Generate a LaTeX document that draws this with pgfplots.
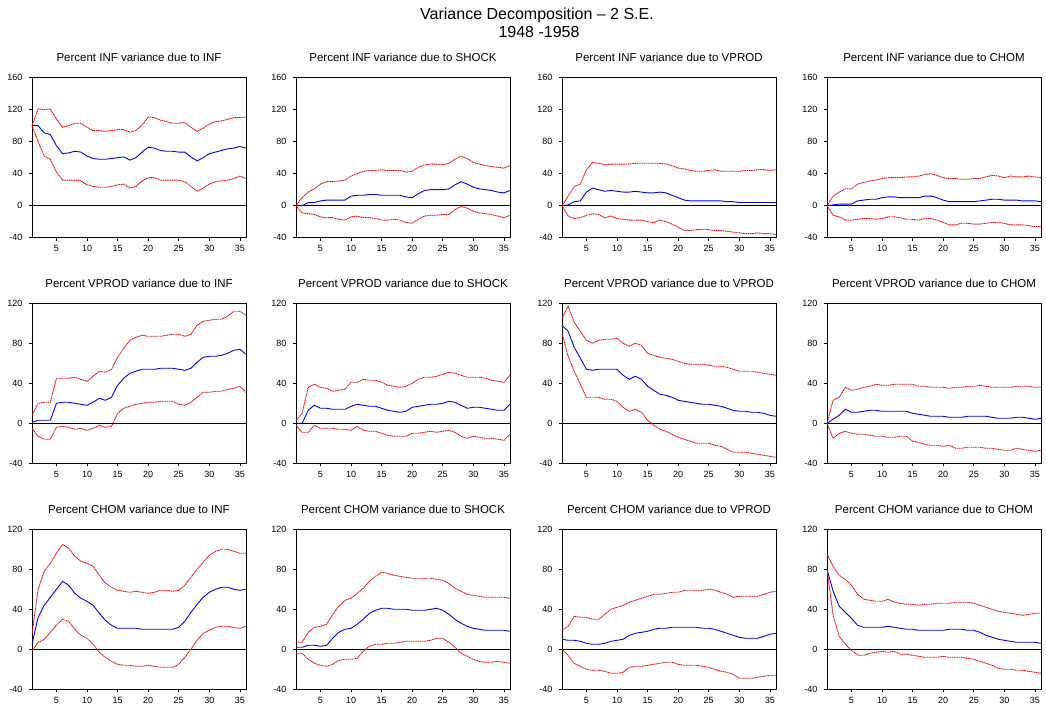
\documentclass[border=0pt]{standalone}
\usepackage{pgfplots}
\usepackage{pgfplotstable}
\pgfplotsset{compat=1.18}
\usepackage{fontspec}
\setmainfont{Liberation Sans}

% x = horizon, u = upper band (+2 S.E.), m = estimate, l = lower band (-2 S.E.)
\pgfplotstableread{
x u m l
1 100 100 100
2 121 100 80
3 120 91 62
4 121 89 58
5 108 75 42
6 98 65 32
7 100 66 32
8 103 68 32
9 103 67 31
10 98 62 26
11 94 59 24
12 94 58 23
13 93 58 23
14 94 59 24
15 95 60 26
16 95 61 27
17 92 57 22
18 94 60 24
19 101 67 31
20 111 73 35
21 110 72 35
22 107 69 32
23 105 68 32
24 103 68 32
25 103 67 32
26 104 67 30
27 98 61 24
28 93 56 18
29 97 60 22
30 102 65 27
31 105 67 30
32 106 69 31
33 108 71 32
34 110 72 34
35 110 74 37
36 111 72 34
}\tA
\pgfplotstableread{
x u m l
1 0 0 0
2 10 0 -9
3 17 4 -10
4 21 4 -11
5 27 6 -14
6 30 7 -15
7 30 7 -15
8 31 7 -17
9 32 7 -18
10 37 12 -14
11 40 13 -13
12 43 13 -15
13 44 14 -15
14 44 14 -16
15 45 13 -18
16 44 13 -18
17 44 13 -17
18 44 13 -18
19 42 11 -21
20 43 10 -22
21 48 15 -17
22 51 19 -13
23 52 20 -12
24 52 20 -12
25 51 20 -11
26 53 21 -11
27 58 26 -5
28 62 30 -1
29 59 27 -3
30 54 23 -7
31 52 21 -9
32 50 20 -10
33 49 19 -11
34 48 17 -13
35 47 16 -15
36 50 19 -12
}\tB
\pgfplotstableread{
x u m l
1 0 0 0
2 12 1 -13
3 24 5 -16
4 27 6 -15
5 45 17 -12
6 54 22 -10
7 53 20 -11
8 51 18 -15
9 52 19 -13
10 52 18 -16
11 52 17 -17
12 52 17 -18
13 53 18 -18
14 53 17 -18
15 53 16 -20
16 53 16 -21
17 53 17 -18
18 52 16 -20
19 50 13 -23
20 47 10 -27
21 46 7 -31
22 44 6 -31
23 43 6 -30
24 43 6 -30
25 44 6 -30
26 45 6 -31
27 43 6 -31
28 43 5 -32
29 43 5 -33
30 43 4 -34
31 44 4 -35
32 44 4 -35
33 45 4 -34
34 45 4 -35
35 44 4 -35
36 45 4 -36
}\tC
\pgfplotstableread{
x u m l
1 0 0 0
2 12 1 -12
3 17 2 -14
4 21 2 -18
5 21 2 -18
6 27 6 -17
7 29 7 -16
8 31 8 -16
9 32 8 -17
10 34 10 -16
11 35 11 -14
12 35 11 -14
13 35 10 -15
14 36 10 -17
15 36 10 -17
16 37 10 -18
17 39 12 -16
18 40 12 -16
19 38 10 -18
20 35 7 -21
21 34 5 -24
22 34 5 -24
23 33 5 -22
24 33 5 -22
25 34 5 -23
26 34 6 -23
27 36 7 -22
28 38 8 -21
29 37 8 -21
30 35 7 -22
31 37 7 -24
32 36 7 -24
33 36 6 -24
34 37 6 -25
35 36 6 -26
36 35 5 -26
}\tD
\pgfplotstableread{
x u m l
1 8 1 -5
2 20 3 -13
3 21 3 -16
4 21 3 -16
5 45 20 -4
6 45 21 -3
7 45 21 -4
8 46 20 -6
9 44 19 -5
10 42 18 -7
11 47 21 -5
12 52 25 -2
13 51 23 -4
14 54 26 -3
15 66 38 10
16 75 45 15
17 83 50 17
18 86 52 19
19 88 54 20
20 87 54 21
21 87 54 21
22 87 55 22
23 88 55 22
24 89 55 22
25 89 54 19
26 87 53 18
27 89 55 21
28 98 61 26
29 102 66 31
30 103 67 31
31 104 67 32
32 104 68 32
33 107 70 34
34 112 73 35
35 112 74 37
36 108 69 31
}\tE
\pgfplotstableread{
x u m l
1 3 0 -2
2 10 0 -9
3 36 13 -9
4 39 18 -2
5 36 15 -5
6 35 15 -5
7 32 14 -5
8 33 14 -6
9 34 14 -6
10 41 17 -7
11 41 19 -3
12 44 18 -7
13 43 17 -8
14 43 17 -8
15 41 15 -10
16 38 13 -12
17 37 12 -13
18 36 11 -13
19 37 12 -13
20 40 16 -10
21 44 17 -10
22 46 18 -9
23 46 19 -8
24 47 19 -9
25 49 20 -8
26 51 22 -7
27 50 21 -9
28 48 18 -13
29 46 15 -15
30 46 16 -13
31 46 16 -14
32 45 15 -15
33 43 14 -15
34 42 13 -16
35 41 13 -17
36 48 19 -11
}\tF
\pgfplotstableread{
x u m l
1 105 98 90
2 117 92 67
3 101 76 52
4 92 65 39
5 83 54 26
6 80 53 26
7 83 54 26
8 84 54 24
9 84 54 24
10 85 54 22
11 80 48 16
12 77 44 12
13 80 47 14
14 78 44 11
15 70 37 3
16 68 33 -2
17 66 29 -6
18 65 28 -8
19 64 26 -11
20 62 23 -14
21 60 22 -16
22 59 21 -18
23 59 20 -20
24 59 19 -20
25 58 19 -20
26 57 18 -22
27 57 17 -23
28 56 15 -26
29 54 13 -29
30 52 12 -29
31 52 12 -29
32 52 11 -30
33 51 11 -31
34 50 10 -32
35 49 8 -33
36 48 7 -34
}\tG
\pgfplotstableread{
x u m l
1 0 0 0
2 23 4 -15
3 26 8 -10
4 36 14 -8
5 33 11 -10
6 34 11 -11
7 36 12 -11
8 37 13 -12
9 39 13 -13
10 38 12 -13
11 38 12 -14
12 39 12 -14
13 39 12 -13
14 39 12 -13
15 39 10 -18
16 37 9 -19
17 37 8 -21
18 36 7 -22
19 36 7 -22
20 36 7 -23
21 35 6 -22
22 36 6 -25
23 36 6 -25
24 37 7 -24
25 37 7 -24
26 38 7 -24
27 37 7 -25
28 36 6 -25
29 36 5 -26
30 36 5 -27
31 36 5 -27
32 37 6 -25
33 37 6 -26
34 37 5 -27
35 36 4 -28
36 36 5 -27
}\tH
\pgfplotstableread{
x u m l
1 15 5 -2
2 60 32 7
3 78 44 10
4 86 52 17
5 96 60 24
6 105 68 30
7 101 64 28
8 93 56 20
9 88 51 14
10 86 48 11
11 83 44 5
12 74 36 -3
13 66 29 -8
14 62 24 -12
15 59 21 -15
16 58 21 -16
17 57 21 -16
18 58 21 -17
19 57 20 -17
20 56 20 -16
21 57 20 -17
22 59 20 -18
23 59 20 -18
24 58 20 -18
25 59 22 -15
26 64 28 -8
27 72 37 0
28 80 45 9
29 87 52 16
30 94 57 19
31 98 60 22
32 100 62 23
33 100 62 23
34 98 60 22
35 96 59 21
36 96 60 23
}\tI
\pgfplotstableread{
x u m l
1 7 2 -4
2 7 2 -4
3 17 4 -10
4 22 4 -14
5 23 3 -16
6 25 4 -17
7 35 11 -15
8 43 17 -11
9 49 20 -10
10 51 21 -10
11 56 25 -9
12 61 30 -2
13 68 36 3
14 73 39 5
15 77 41 5
16 76 41 6
17 74 40 6
18 73 40 7
19 72 40 8
20 71 39 8
21 71 39 8
22 71 39 8
23 71 40 9
24 70 41 11
25 69 39 11
26 66 35 7
27 61 30 2
28 58 26 -4
29 55 23 -7
30 54 21 -10
31 53 20 -12
32 52 19 -13
33 52 19 -13
34 52 19 -12
35 52 19 -13
36 51 18 -14
}\tJ
\pgfplotstableread{
x u m l
1 19 10 0
2 23 9 -6
3 33 9 -14
4 32 8 -17
5 32 6 -20
6 30 5 -21
7 30 5 -21
8 35 6 -22
9 40 8 -24
10 42 9 -24
11 44 10 -23
12 47 14 -18
13 49 16 -17
14 51 17 -17
15 53 18 -16
16 55 20 -15
17 55 21 -14
18 56 21 -13
19 57 22 -13
20 57 22 -15
21 59 22 -16
22 59 22 -16
23 59 22 -16
24 59 21 -17
25 60 21 -18
26 59 20 -20
27 57 18 -22
28 55 16 -23
29 52 14 -25
30 53 12 -29
31 53 11 -29
32 53 11 -29
33 53 11 -28
34 55 13 -27
35 57 15 -26
36 58 16 -26
}\tK
\pgfplotstableread{
x u m l
1 95 80 80
2 83 58 34
3 74 43 13
4 70 37 5
5 64 31 -1
6 55 24 -6
7 50 22 -6
8 49 22 -4
9 48 22 -3
10 48 22 -2
11 50 23 -3
12 47 22 -2
13 46 21 -5
14 45 20 -5
15 45 20 -6
16 44 19 -7
17 45 19 -8
18 45 19 -8
19 46 19 -8
20 46 19 -7
21 46 20 -8
22 47 20 -8
23 47 20 -8
24 47 19 -9
25 46 19 -10
26 44 17 -12
27 42 14 -14
28 40 12 -16
29 38 10 -19
30 37 9 -20
31 36 8 -20
32 35 7 -21
33 34 7 -21
34 35 7 -22
35 36 7 -23
36 36 6 -24
}\tL

\pgfplotsset{
  vd/.style={
    scale only axis, width=214pt, height=160pt, anchor=south west,
    xmin=1, xmax=36, ymin=-40,
    xtick={5,10,...,35},
    tick pos=left, tick align=outside, major tick length=3pt,
    axis line style={line width=0.8pt},
    every tick/.style={black, line width=0.6pt},
    /pgf/number format/assume math mode=true,
    tick label style={font=\fontsize{9}{10}\selectfont},
    yticklabel style={xshift=-3pt},
    xticklabel style={yshift=-1pt},
    title style={at={(0.5,1)}, anchor=base, yshift=10pt, font=\fontsize{11.5}{13}\selectfont},
  },
  band/.style={red, line width=0.9pt, dash pattern=on 1.2pt off 0.6pt},
}

\newcommand{\panel}[5]{%
  \begin{axis}[vd, at={(#1pt,#2pt)}, title={#4}, ymax=#5, ytick={-40,0,...,#5}]
    \addplot[black, line width=0.7pt, forget plot] coordinates {(1,0) (36,0)};
    \addplot[band] table[x=x,y=u] {#3};
    \addplot[blue, line width=0.9pt] table[x=x,y=m] {#3};
    \addplot[band] table[x=x,y=l] {#3};
  \end{axis}}

\begin{document}
\begin{tikzpicture}
\path[use as bounding box] (0pt,0pt) rectangle (1046pt,711pt);
\node[font=\fontsize{16}{18}\selectfont] at (537pt,696pt) {Variance Decomposition – 2 S.E.};
\node[font=\fontsize{16}{18}\selectfont] at (539pt,679pt) {1948 -1958};

\panel{32}{473.3}{\tA}{Percent INF variance due to INF}{160}
\panel{296}{473.3}{\tB}{Percent INF variance due to SHOCK}{160}
\panel{562}{473.3}{\tC}{Percent INF variance due to VPROD}{160}
\panel{827}{473.3}{\tD}{Percent INF variance due to CHOM}{160}

\panel{32}{247.7}{\tE}{Percent VPROD variance due to INF}{120}
\panel{296}{247.7}{\tF}{Percent VPROD variance due to SHOCK}{120}
\panel{562}{247.7}{\tG}{Percent VPROD variance due to VPROD}{120}
\panel{827}{247.7}{\tH}{Percent VPROD variance due to CHOM}{120}

\panel{32}{21.7}{\tI}{Percent CHOM variance due to INF}{120}
\panel{296}{21.7}{\tJ}{Percent CHOM variance due to SHOCK}{120}
\panel{562}{21.7}{\tK}{Percent CHOM variance due to VPROD}{120}
\panel{827}{21.7}{\tL}{Percent CHOM variance due to CHOM}{120}
\end{tikzpicture}
\end{document}
